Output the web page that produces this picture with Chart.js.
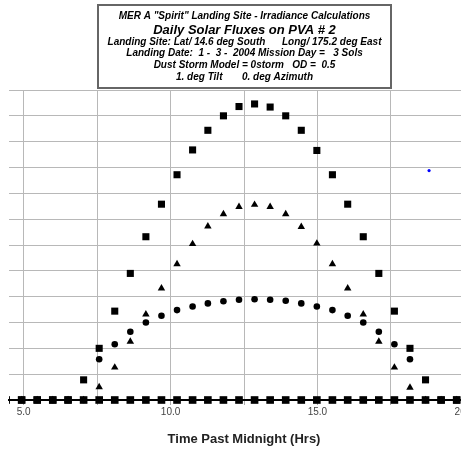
<!DOCTYPE html>
<html><head><meta charset="utf-8">
<script src="https://cdn.jsdelivr.net/npm/chart.js@4/dist/chart.umd.min.js"></script>
<style>
html,body{margin:0;padding:0;overflow:hidden;background:#fff;width:461px;height:450px}
#wrap{position:absolute;left:0;top:0;width:500px;height:450px}
</style>
</head><body><div id="wrap"><canvas id="c" width="500" height="450"></canvas></div>
<script>
// Time past midnight (hrs) of each computed step
const hours = [4.40,4.93,5.46,5.99,6.51,7.04,7.57,8.10,8.63,9.16,9.69,10.22,10.75,11.27,11.80,12.33,12.86,13.39,13.92,14.45,14.98,15.51,16.03,16.56,17.09,17.62,18.15,18.68,19.21,19.74,20.27];
// squares
const totalFlux   = [0,0,0,0,0,39,100,172,245,316,379,436,484,522,550,568,573,567,550,522,483,436,379,316,245,172,100,39,0,0,0];
// triangles
const directFlux  = [0,0,0,0,0,0,25,63,113,166,216,263,302,336,360,374,378,374,360,335,303,263,216,166,113,63,24,0,0,0,0];
// circles
const diffuseFlux = [0,0,0,0,0,0,79,108,132,150,163,174,181,187,191,194,195,194,192,187,181,174,163,150,132,108,79,0,0,0,0];
// baseline squares
const zeroFlux    = [0,0,0,0,0,0,0,0,0,0,0,0,0,0,0,0,0,0,0,0,0,0,0,0,0,0,0,0,0,0,0];
// stray blue point
const strayHours = [18.80];
const strayFlux  = [444];

const xTickValues = [5, 7.5, 10, 12.5, 15, 17.5, 20];
const xTickLabels = ['5.0', '', '10.0', '', '15.0', '', '20.0'];
const xTitle = 'Time Past Midnight (Hrs)';
const titleLines = [
  'MER A "Spirit" Landing Site - Irradiance Calculations',
  'Daily Solar Fluxes on PVA # 2',
  'Landing Site: Lat/ 14.6 deg South      Long/ 175.2 deg East',
  'Landing Date:  1 -  3 -  2004 Mission Day =   3 Sols',
  'Dust Storm Model = 0storm   OD =  0.5',
  '1. deg Tilt       0. deg Azimuth'
];

const pts = (xs, ys) => xs.map((x, i) => ({x: x, y: ys[i]}));

const titleBox = {
  id: 'titleBox',
  afterDraw(chart) {
    const ctx = chart.ctx;
    ctx.save();
    ctx.fillStyle = '#fff';
    ctx.fillRect(98, 5, 293, 83);
    ctx.strokeStyle = '#666';
    ctx.lineWidth = 2;
    ctx.strokeRect(98, 5, 293, 83);
    ctx.fillStyle = '#000';
    ctx.textAlign = 'center';
    ctx.textBaseline = 'middle';
    const ys = [16, 30.5, 42.5, 53.5, 65.5, 77.5];
    titleLines.forEach((t, i) => {
      ctx.font = (i === 1 ? 'italic bold 13px' : 'italic bold 10px') + ' "Liberation Sans", Arial, sans-serif';
      ctx.fillText(t, 244.5, ys[i]);
    });
    ctx.restore();
  }
};

const clipBox = {left: 0, right: 0, top: 10, bottom: 10};
const base = {showLine: false, clip: clipBox, borderColor: '#000', backgroundColor: '#000', pointBorderWidth: 0};

new Chart(document.getElementById('c'), {
  type: 'scatter',
  data: {
    datasets: [
      Object.assign({label: 'zero', data: pts(hours, zeroFlux), pointStyle: 'rect', pointRadius: 5.4}, base),
      Object.assign({label: 'total', data: pts(hours, totalFlux), pointStyle: 'rect', pointRadius: 5}, base),
      Object.assign({label: 'direct', data: pts(hours, directFlux), pointStyle: 'triangle', pointRadius: 4.3}, base),
      Object.assign({label: 'diffuse', data: pts(hours, diffuseFlux), pointStyle: 'circle', pointRadius: 3.3}, base),
      {label: 'stray', data: pts(strayHours, strayFlux), showLine: false, pointStyle: 'circle', pointRadius: 1.6,
       backgroundColor: '#0000ff', borderColor: '#0000ff', pointBorderWidth: 0, clip: clipBox}
    ]
  },
  options: {
    responsive: false,
    devicePixelRatio: 1,
    animation: false,
    layout: {padding: {left: 9, right: 21, top: 90, bottom: 3.2}},
    plugins: {legend: {display: false}, tooltip: {enabled: false}, title: {display: false}},
    scales: {
      x: {
        type: 'linear', min: 4.5, max: 20.5,
        afterBuildTicks(axis) { axis.ticks = xTickValues.map(v => ({value: v})); },
        ticks: {
          autoSkip: false, maxRotation: 0, padding: 1, color: '#444',
          font: {family: '"Liberation Sans", Arial, sans-serif', size: 10},
          callback(v) { const k = xTickValues.indexOf(v); return k >= 0 ? xTickLabels[k] : ''; }
        },
        grid: {color: '#b8b8b8', lineWidth: 1, drawTicks: true, tickLength: 5, tickColor: '#aaa'},
        border: {display: true, color: '#000', width: 2},
        title: {display: true, text: xTitle, color: '#222', padding: {top: 12.2, bottom: 0},
                font: {family: '"Liberation Sans", Arial, sans-serif', size: 13, weight: 'bold'}}
      },
      y: {
        min: 0, max: 600,
        ticks: {display: false, stepSize: 50},
        grid: {color: '#b8b8b8', lineWidth: 1, drawTicks: false},
        border: {display: false}
      }
    }
  },
  plugins: [titleBox]
});
</script>
</body></html>
